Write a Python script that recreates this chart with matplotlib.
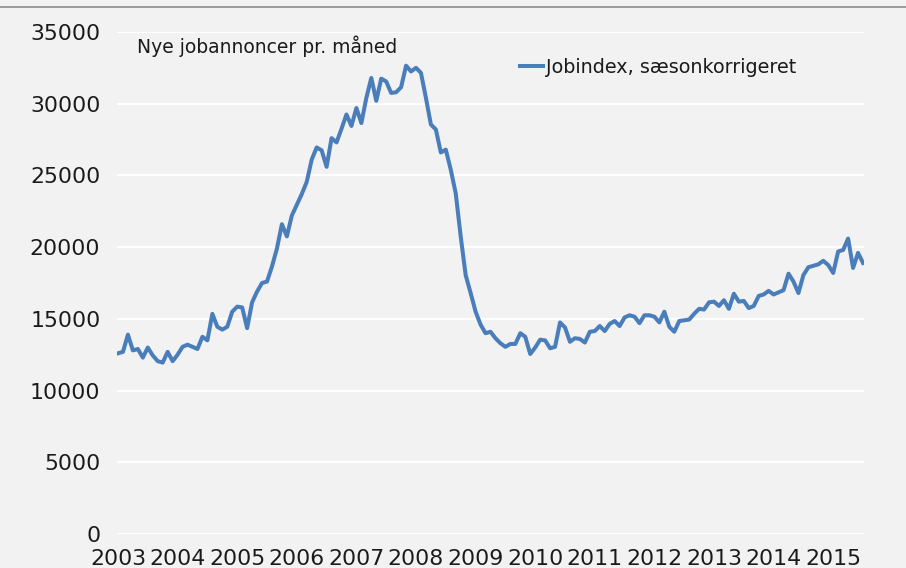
import matplotlib
matplotlib.use("Agg")
import matplotlib.pyplot as plt
from matplotlib.lines import Line2D
import numpy as np

# monthly values, Jan 2003 - Jul 2015
jobindex = [
    12600, 12700, 13900, 12800, 12900, 12300, 13000, 12450, 12050, 11950, 12700, 12050,  # 2003
    12500, 13050, 13200, 13050, 12900, 13750, 13500, 15350, 14450, 14250, 14450, 15500,  # 2004
    15850, 15800, 14350, 16150, 16900, 17500, 17600, 18650, 19900, 21600, 20750, 22200,  # 2005
    22950, 23700, 24550, 26100, 26950, 26750, 25600, 27600, 27300, 28250, 29250, 28450,  # 2006
    29700, 28650, 30400, 31800, 30200, 31750, 31550, 30750, 30800, 31150, 32650, 32250,  # 2007
    32500, 32150, 30400, 28550, 28200, 26600, 26800, 25400, 23750, 20750, 18050, 16800,  # 2008
    15500, 14600, 14000, 14100, 13650, 13300, 13050, 13250, 13250, 14000, 13750, 12550,  # 2009
    13000, 13550, 13500, 12950, 13050, 14750, 14400, 13400, 13650, 13600, 13350, 14100,  # 2010
    14150, 14500, 14150, 14650, 14850, 14500, 15100, 15250, 15150, 14700, 15250, 15250,  # 2011
    15150, 14750, 15500, 14450, 14100, 14850, 14900, 14950, 15350, 15700, 15650, 16150,  # 2012
    16200, 15900, 16300, 15700, 16750, 16200, 16250, 15750, 15900, 16600, 16700, 16950,  # 2013
    16700, 16850, 17000, 18150, 17600, 16800, 18050, 18600, 18700, 18800, 19050, 18750,  # 2014
    18200, 19700, 19800, 20600, 18550, 19600, 18900,                                      # 2015
]
years = [str(y) for y in range(2003, 2016)]
series_label = "Jobindex, sæsonkorrigeret"
title = "Nye jobannoncer pr. måned"

bg = "#f2f2f2"
blue = "#4a7ebb"
txt = "#1a1a1a"

plt.rcParams["font.family"] = ["DejaVu Sans"]

fig = plt.figure(figsize=(9.06, 5.68), dpi=100, facecolor=bg)
ax = fig.add_axes([117 / 906, 34 / 568, 747 / 906, 502 / 568], facecolor=bg)

months = np.arange(len(jobindex))
ax.plot(months, jobindex, color=blue, lw=2.9, label=series_label, solid_joinstyle="round", zorder=3)

ax.set_ylim(0, 35000)
ax.set_yticks(np.arange(0, 35001, 5000))
ax.set_xlim(-0.2, len(jobindex) - 0.8)
ax.set_xticks(np.arange(0, len(jobindex), 12))
ax.set_xticklabels(years)

ax.grid(axis="y", color="white", lw=1.5, zorder=1)
ax.set_axisbelow(True)
for s in ax.spines.values():
    s.set_visible(False)
ax.tick_params(axis="both", length=0, labelsize=15.8, labelcolor=txt)
ax.tick_params(axis="y", pad=12)
ax.tick_params(axis="x", pad=10.5)

ax.text(0.027, 0.972, title, transform=ax.transAxes, fontsize=13.5, color=txt,
        ha="left", va="center")

ax.legend(loc="center left", bbox_to_anchor=(0.5395, 0.930), frameon=False,
          fontsize=13.8, handlelength=1.2, handletextpad=0.15, borderpad=0,
          borderaxespad=0, labelcolor=txt)

fig.add_artist(Line2D([0, 1], [1 - 6.5 / 568] * 2, color="#8c8c8c", lw=1.2,
                      transform=fig.transFigure))

fig.savefig("out.png", dpi=100, facecolor=bg)
